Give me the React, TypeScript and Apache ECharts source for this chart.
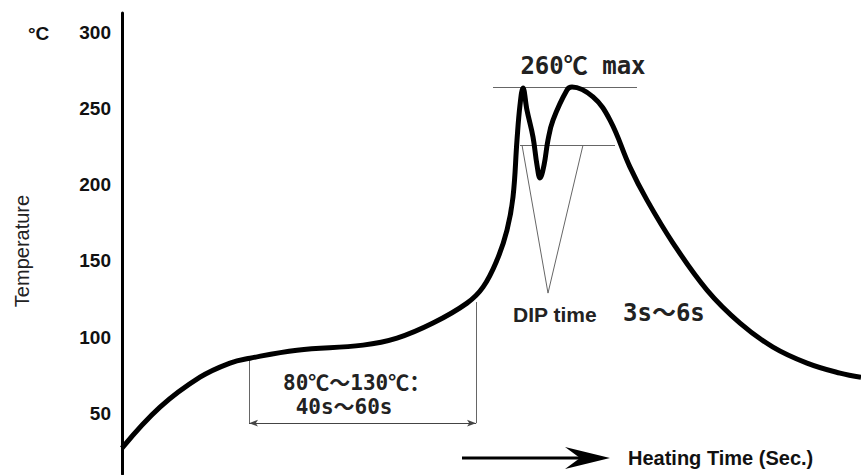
import React, { useEffect, useRef } from "react";
import * as echarts from "echarts";

// Soldering profile curve: [time (arbitrary units), temperature °C]
const profileTime = [0, 19, 39, 54, 64, 87.5, 120.5, 137.5, 155.5, 172.5, 180.5, 187.5, 192.5, 195.5, 197.5, 199, 200.5, 202.5, 205.5, 207.5, 209, 211, 213, 215.5, 222.5, 225, 235.5, 244, 254, 262.5, 275.5, 292.5, 309, 325.5, 342.5, 359, 369.5];
const profileTemp = [27, 53.9, 73.6, 82.9, 86.1, 91.4, 94.7, 99.3, 109.2, 122.3, 132.8, 150.6, 170.3, 192, 229.5, 252.5, 263.7, 249, 231.5, 213, 204.5, 213, 229.5, 242.6, 262.4, 264.3, 257.8, 242.6, 211.7, 190, 161.8, 130.9, 109.2, 93.4, 82.9, 76.3, 73.6];

const yTicks = [50, 100, 150, 200, 250, 300];

// annotation values (data coordinates)
const maxLineTemp = 264.3;
const maxLineTime = [185.5, 257.5];
const dipLineTemp = 226.2;
const dipLineTime = [199, 246.5];
const dipTriangleTime = [200, 213, 230.5];
const dipTriangleTemp = [226.2, 128.9, 226.2];
const preheatTime = [63.5, 177];
const preheatTop = [86.1, 123];
const preheatBottom = 43.4;

const mono = "'DejaVu Sans Mono', 'Noto Sans CJK SC', monospace";
const sans = "'Liberation Sans', Arial, sans-serif";

export default function App() {
  const ref = useRef<HTMLDivElement>(null);
  useEffect(() => {
    document.body.style.margin = "0";
    if (!ref.current) return;
    const chart = echarts.init(ref.current, null, { renderer: "svg" });
    const curve = profileTime.map((t, i) => [t, profileTemp[i]]);
    const tri = dipTriangleTime.map((t, i) => [t, dipTriangleTemp[i]]);
    const thin = { color: "#666", width: 1, type: "solid" as const };
    chart.setOption({
      animation: false,
      backgroundColor: "#fff",
      grid: { left: 122, right: 0, top: 13, bottom: 1 },
      xAxis: {
        type: "value",
        min: 0,
        max: 369.5,
        show: false,
      },
      yAxis: {
        type: "value",
        min: 10,
        max: 313,
        interval: 10,
        axisLine: { show: true, lineStyle: { color: "#000", width: 3 } },
        axisTick: { show: false },
        splitLine: { show: false },
        axisLabel: {
          showMinLabel: false,
          showMaxLabel: false,
          margin: 11,
          color: "#111",
          fontSize: 19,
          fontWeight: "bold",
          fontFamily: sans,
          formatter: (v: number) => (yTicks.includes(v) ? String(v) : ""),
        },
      },
      series: [
        {
          type: "line",
          data: curve,
          smooth: 0.4,
          showSymbol: false,
          symbol: "none",
          lineStyle: { color: "#000", width: 5 },
          z: 5,
          silent: true,
        },
        {
          type: "line",
          data: tri,
          showSymbol: false,
          symbol: "none",
          lineStyle: thin,
          silent: true,
          markLine: {
            silent: true,
            symbol: ["none", "none"],
            label: { show: false },
            lineStyle: thin,
            data: [
              [{ coord: [maxLineTime[0], maxLineTemp] }, { coord: [maxLineTime[1], maxLineTemp] }],
              [{ coord: [dipLineTime[0], dipLineTemp] }, { coord: [dipLineTime[1], dipLineTemp] }],
              [{ coord: [preheatTime[0], preheatTop[0]] }, { coord: [preheatTime[0], preheatBottom] }],
              [{ coord: [preheatTime[1], preheatTop[1]] }, { coord: [preheatTime[1], preheatBottom] }],
            ],
          },
        },
        {
          type: "line",
          data: [],
          silent: true,
          markLine: {
            silent: true,
            symbol: ["arrow", "arrow"],
            symbolSize: [5, 9],
            label: { show: false },
            lineStyle: { color: "#444", width: 1, type: "solid" },
            data: [
              [{ coord: [preheatTime[0], preheatBottom] }, { coord: [preheatTime[1], preheatBottom] }],
            ],
          },
        },
      ],
      graphic: [
        { type: "text", left: 28, top: 24, style: { text: "°C", fontSize: 19, fontWeight: "bold", fontFamily: sans, fill: "#111" } },
        {
          type: "text",
          x: 22,
          y: 251,
          rotation: Math.PI / 2,
          style: { text: "Temperature", fontSize: 20, fontFamily: sans, fill: "#222", align: "center", verticalAlign: "middle" },
        },
        { type: "text", x: 583, y: 66, style: { text: "260℃ max", fontSize: 24, fontWeight: "bold", fontFamily: mono, fill: "#222", align: "center", verticalAlign: "middle" } },
        { type: "text", x: 283, y: 395, style: { text: "80℃～130℃：\n 40s～60s", fontSize: 21, lineHeight: 24, fontWeight: "bold", fontFamily: mono, fill: "#222", verticalAlign: "middle" } },
        { type: "text", x: 513, y: 314, style: { text: "DIP time", fontSize: 21, fontWeight: "bold", fontFamily: sans, fill: "#222", verticalAlign: "middle" } },
        { type: "text", x: 623, y: 313, style: { text: "3s～6s", fontSize: 24, fontWeight: "bold", fontFamily: mono, fill: "#222", verticalAlign: "middle" } },
        { type: "text", x: 628, y: 458, style: { text: "Heating Time (Sec.)", fontSize: 20, fontWeight: "bold", fontFamily: sans, fill: "#111", verticalAlign: "middle" } },
        { type: "line", shape: { x1: 462, y1: 458, x2: 582, y2: 458 }, style: { stroke: "#000", lineWidth: 3 } },
        { type: "polygon", shape: { points: [[565, 447], [610, 458], [565, 469], [580, 458]] }, style: { fill: "#000" } },
      ],
    });
    return () => chart.dispose();
  }, []);
  return <div ref={ref} style={{ position: "fixed", left: 0, top: 0, width: 861, height: 475 }} />;
}
